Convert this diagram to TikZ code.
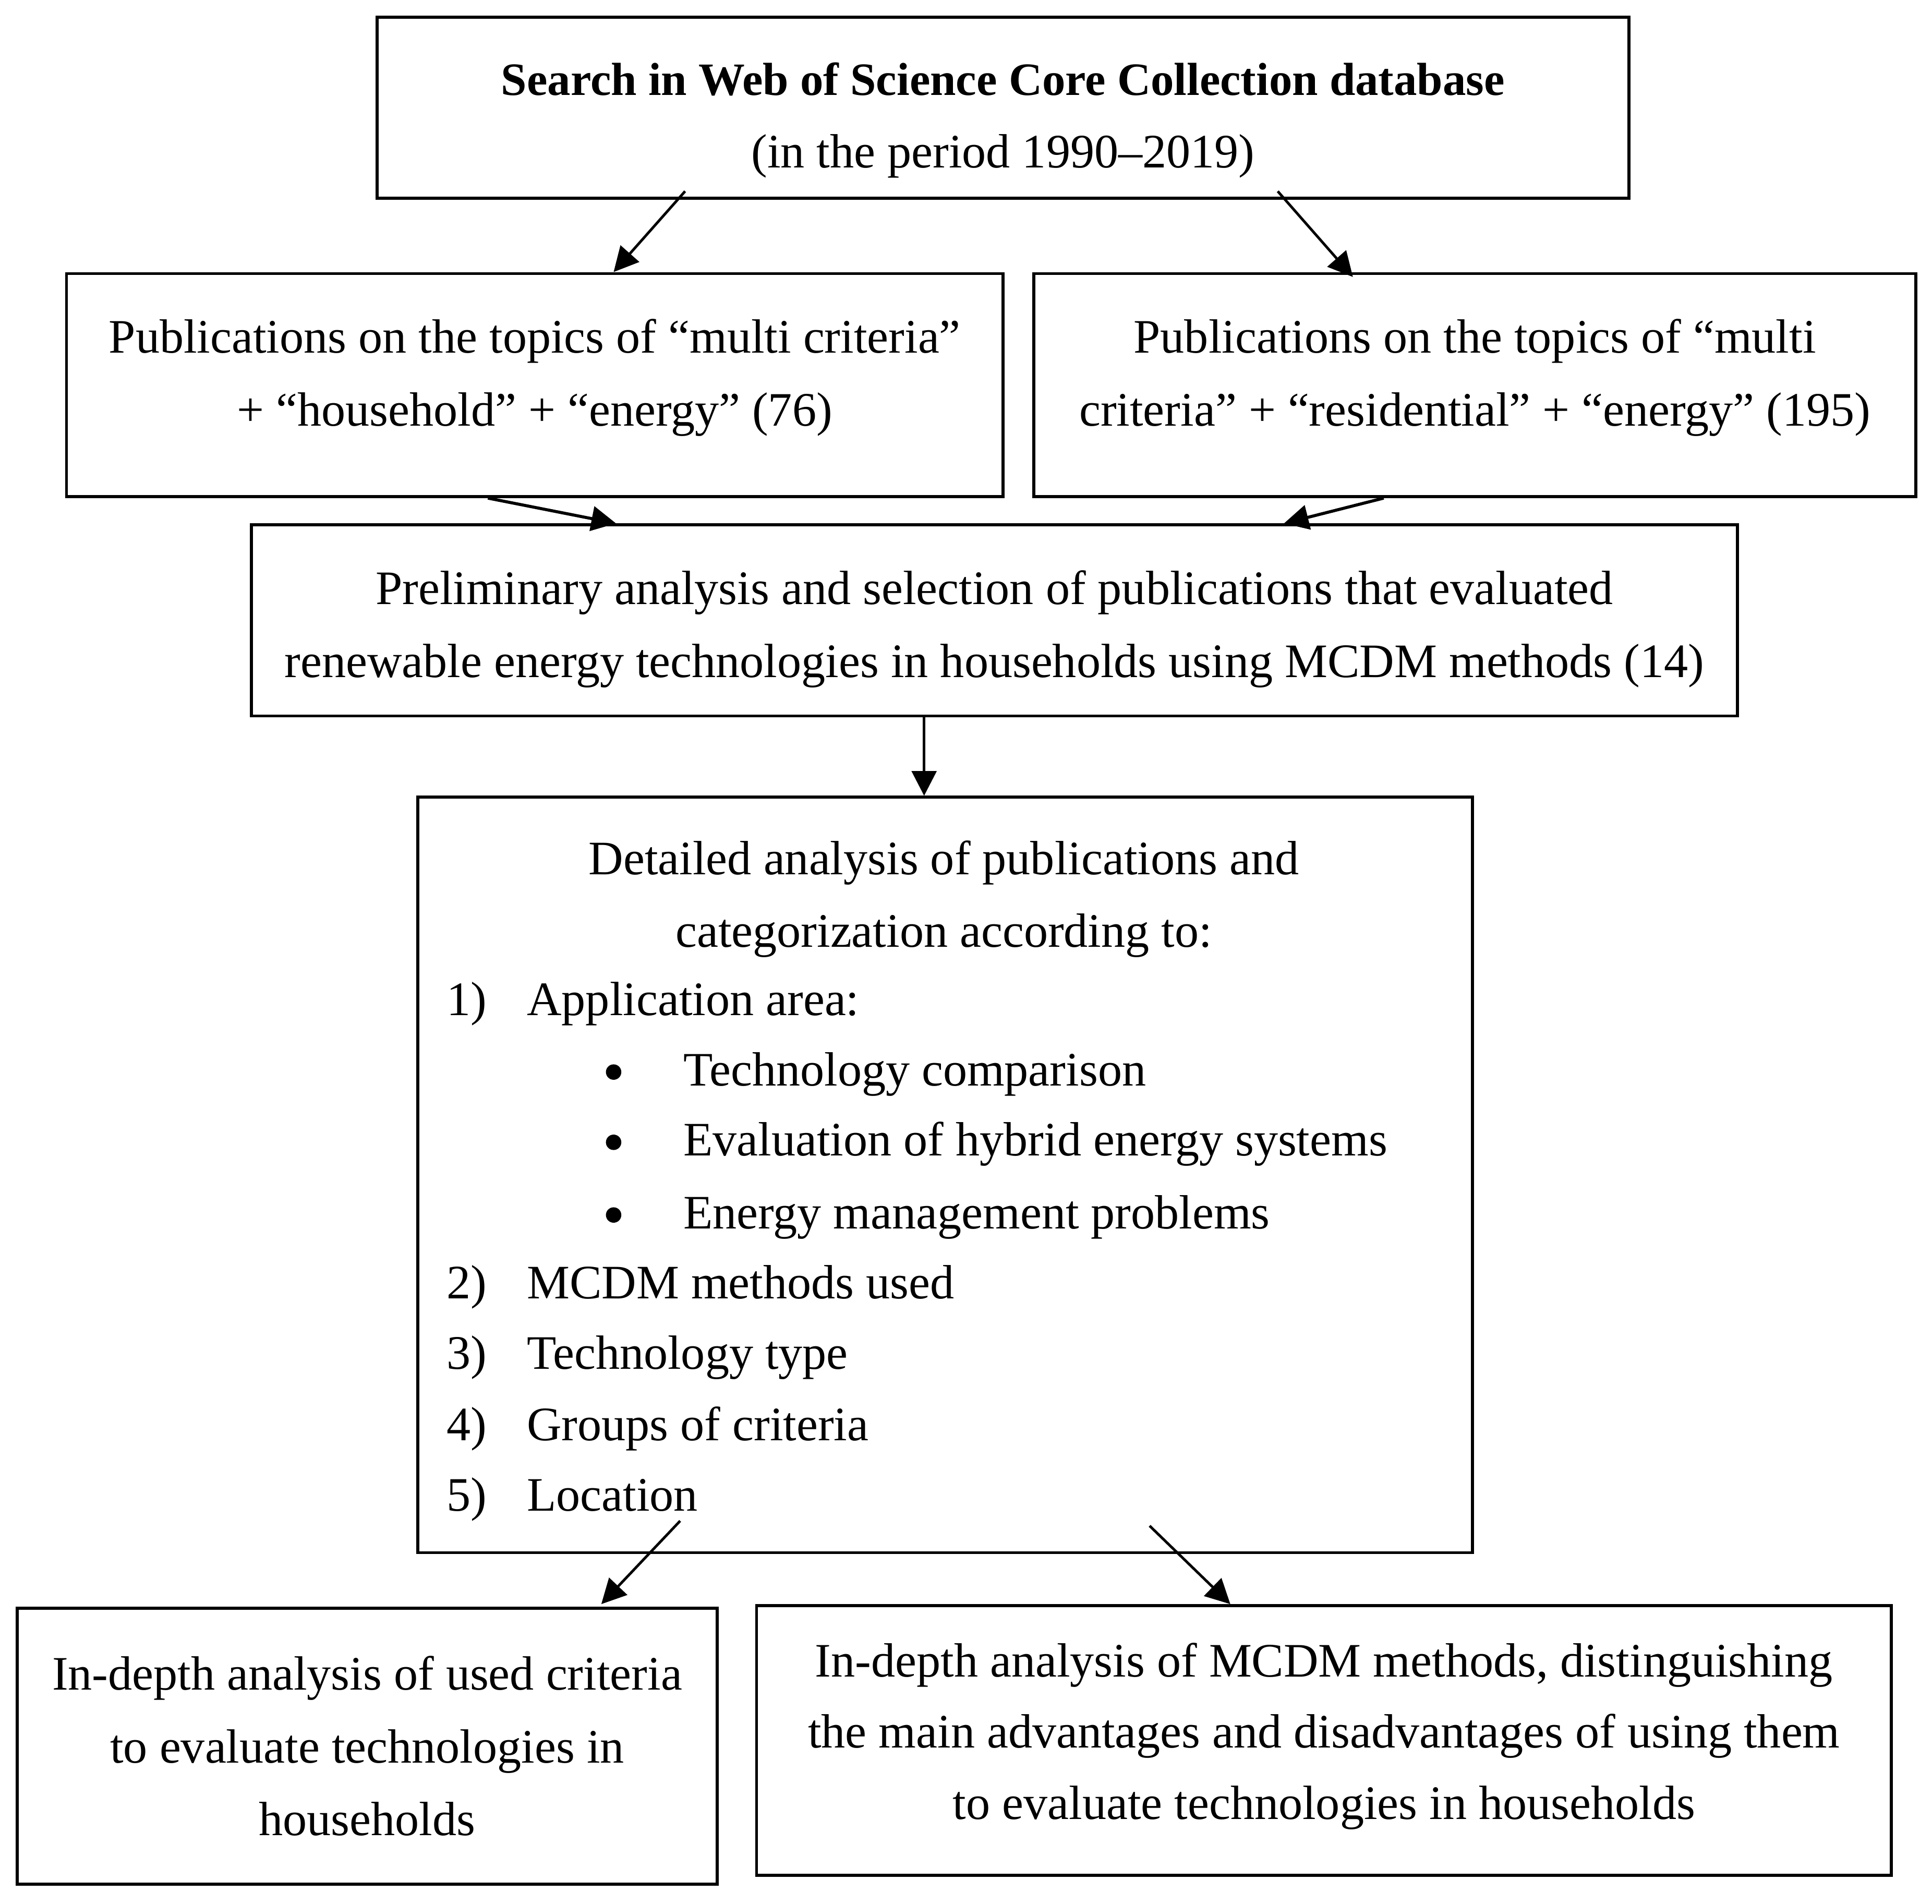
\documentclass[tikz,border=0pt]{standalone}
\usepackage{fontspec}
\setmainfont{Liberation Serif}
\usetikzlibrary{arrows.meta, positioning, calc}

\newcommand{\boxfont}{\fontsize{11.1pt}{16.8pt}\selectfont}

\tikzset{
  box/.style={draw, line width=0.7pt, inner sep=0pt},
  lbl/.style={align=center, inner sep=0pt, font=\boxfont},
  txt/.style={anchor=base west, inner sep=0pt, font=\boxfont},
  dot/.style={circle, fill, inner sep=0pt, minimum size=0.125cm},
  arr/.style={-{Triangle[length=0.2cm, width=0.2cm]}, line width=0.6pt},
}

\begin{document}
\begin{tikzpicture}
  \useasboundingbox (0,0) rectangle (15.68,-15.45);

  % boxes
  \node[box, minimum width=10.16cm, minimum height=1.47cm] (search) at (8.14,-0.875) {};
  \node[box, minimum width=7.6cm, minimum height=1.81cm] (pubA) at (4.34,-3.125) {};
  \node[box, minimum width=7.16cm, minimum height=1.81cm] (pubB) at (11.97,-3.125) {};
  \node[box, minimum width=12.06cm, minimum height=1.55cm] (prelim) at (8.07,-5.035) {};
  \node[box, minimum width=8.56cm, minimum height=6.13cm] (detail) at (7.67,-9.535) {};
  \node[box, minimum width=5.68cm, minimum height=2.24cm] (critA) at (2.98,-14.17) {};
  \node[box, minimum width=9.21cm, minimum height=2.19cm] (methB) at (10.745,-14.125) {};

  % texts
  \node[lbl] (searchT) at ([yshift=-0.10cm]search.center)
    {{\fontsize{10.7pt}{16.8pt}\selectfont\bfseries Search in Web of Science Core Collection database}\\(in the period 1990--2019)};
  \node[lbl] (pubAT) at ([yshift=0.06cm]pubA.center)
    {Publications on the topics of ``multi criteria''\\+ ``household'' + ``energy'' (76)};
  \node[lbl] (pubBT) at ([yshift=0.06cm]pubB.center)
    {Publications on the topics of ``multi\\criteria'' + ``residential'' + ``energy'' (195)};
  \node[lbl] (prelimT) at ([yshift=-0.07cm]prelim.center)
    {Preliminary analysis and selection of publications that evaluated\\renewable energy technologies in households using MCDM methods (14)};
  \node[lbl] (critAT) at (critA.center)
    {In-depth analysis of used criteria\\to evaluate technologies in\\households};
  \node[lbl, font=\fontsize{11.1pt}{16.4pt}\selectfont] (methBT) at ([yshift=0.035cm]methB.center)
    {In-depth analysis of MCDM methods, distinguishing\\the main advantages and disadvantages of using them\\to evaluate technologies in households};

  % text of the detail box
  \node[lbl, anchor=north] (head) at (7.66,-6.815)
    {Detailed analysis of publications and\\categorization according to:};
  \foreach \i/\t/\y in {1/Application area:/8.24, 2/MCDM methods used/10.54,
      3/Technology type/11.11, 4/Groups of criteria/11.69, 5/Location/12.26}{
    \node[txt] (num\i) at (3.62,-\y) {\i)};
    \node[txt] (item\i) at (4.27,-\y) {\t};
  }
  \foreach \i/\t/\y in {1/Technology comparison/8.81,
      2/Evaluation of hybrid energy systems/9.38, 3/Energy management problems/9.97}{
    \node[dot] (dot\i) at (4.98,-\y+0.11) {};
    \node[txt] (sub\i) at (5.54,-\y) {\t};
  }

  % connectors
  \draw[arr] ([xshift=-2.58cm, yshift=0.07cm]search.south) -- ([xshift=0.64cm]pubA.north);
  \draw[arr] ([xshift=2.23cm, yshift=0.07cm]search.south) -- ([xshift=-0.99cm, yshift=-0.04cm]pubB.north);
  \draw[arr, line width=0.7pt] ([xshift=-0.38cm]pubA.south) -- ([xshift=-3.07cm]prelim.north);
  \draw[arr, line width=0.7pt] ([xshift=-0.74cm]pubB.south) -- ([xshift=2.35cm]prelim.north);
  \draw[arr] ([xshift=-0.57cm]prelim.south) -- ([xshift=-0.17cm]detail.north);
  \draw[arr] ([xshift=-2.15cm, yshift=0.27cm]detail.south) -- ([xshift=1.90cm, yshift=0.02cm]critA.north);
  \draw[arr] ([xshift=1.66cm, yshift=0.23cm]detail.south) -- ([xshift=-0.76cm]methB.north);
\end{tikzpicture}
\end{document}
